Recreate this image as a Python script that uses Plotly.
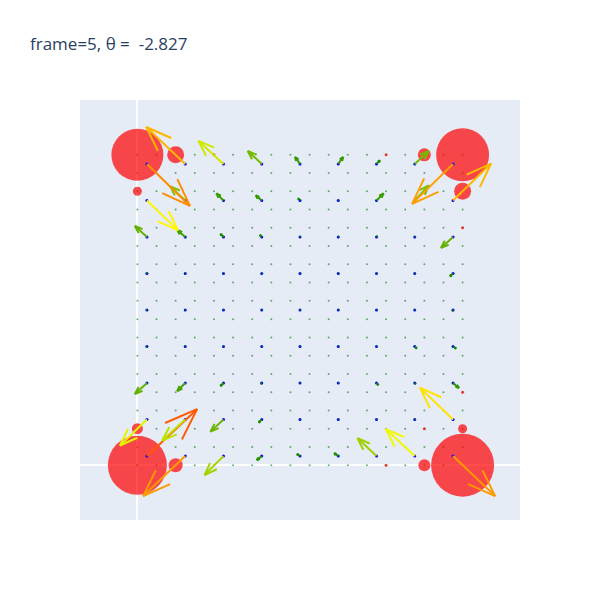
import plotly.graph_objects as go
import plotly.colors as pc
import math

# fine lattice coordinates
fine_x = [0, 1, 2, 3, 4, 5, 6, 7, 8, 9, 10, 11, 12, 13, 14, 15, 16, 17]
fine_y = [0, 1, 2, 3, 4, 5, 6, 7, 8, 9, 10, 11, 12, 13, 14, 15, 16, 17]

# coarse lattice (arrow bases)
coarse_x = [0.5, 2.5, 4.5, 6.5, 8.5, 10.5, 12.5, 14.5, 16.5]
coarse_y = [0.5, 2.5, 4.5, 6.5, 8.5, 10.5, 12.5, 14.5, 16.5]

# arrow components, rows from bottom (j=0) to top (j=8), columns left to right
U = [
    [2.62, -2.20, -0.99, -0.26, -0.16, -0.21, -0.99, -1.52, 2.20],
    [-1.41, -1.20, -0.68, -0.16, 0.02, 0.02, 0.02, 0.02, -1.73],
    [-0.63, -0.42, -0.16, -0.05, 0.02, 0.02, 0.10, 0.05, 0.31],
    [-0.05, 0.02, 0.02, 0.02, 0.02, 0.02, 0.02, 0.10, 0.16],
    [-0.05, 0.02, 0.02, 0.02, 0.02, 0.02, 0.02, 0.02, -0.05],
    [-0.05, 0.02, 0.02, 0.02, 0.02, 0.02, 0.02, 0.02, -0.16],
    [-0.63, -0.42, -0.16, -0.10, 0.02, 0.02, 0.05, 0.02, -0.63],
    [1.62, -0.78, -0.37, -0.31, -0.10, 0.02, 0.37, 0.73, 1.99],
    [2.25, -2.04, -1.31, -0.73, -0.26, 0.26, 0.18, 0.73, -2.14],
]
V = [
    [2.57, -2.19, -1.04, -0.22, 0.11, 0.16, 0.98, 1.48, -2.19],
    [-1.42, -1.15, -0.66, -0.16, 0.02, 0.02, 0.02, 0.02, 1.75],
    [-0.60, -0.44, -0.16, -0.05, 0.02, 0.02, -0.11, -0.05, -0.27],
    [-0.03, 0.02, 0.02, 0.02, 0.02, 0.02, 0.02, -0.11, -0.11],
    [0.00, 0.02, 0.02, 0.02, 0.02, 0.02, 0.02, 0.02, -0.05],
    [0.03, 0.02, 0.02, 0.02, 0.02, 0.02, 0.02, 0.02, -0.16],
    [0.60, 0.38, 0.16, 0.11, 0.02, 0.02, 0.05, 0.02, -0.60],
    [-1.64, 0.77, 0.38, 0.27, 0.11, 0.02, 0.38, 0.82, 2.02],
    [-2.30, 2.02, 1.26, 0.71, 0.38, 0.38, 0.19, 0.71, -2.19],
]

# probability blobs on the fine lattice
blob_x = [0, 2, 0, 17, 15, 17, 0, 0, 2, 17, 15, 17, 4, 13, 17, 17, 15, 13]
blob_y = [17, 17, 15, 17, 17, 15, 0, 2, 0, 0, 0, 2, 17, 17, 13, 4, 2, 0]
blob_d = [52, 17, 9, 53, 13, 17, 59, 11, 14, 63, 12, 9, 3, 3, 3, 3, 3, 3]

title_text = "frame=5, θ =  -2.827"

CMAX = 4.45
scale = [[0.0, "rgb(0,128,0)"], [0.5, "rgb(255,255,0)"], [1.0, "rgb(255,0,0)"]]

fig = go.Figure()

gx = [x for y in fine_y for x in fine_x]
gy = [y for y in fine_y for x in fine_x]
fig.add_trace(go.Scatter(x=gx, y=gy, mode="markers",
                         marker=dict(size=2, color="green", opacity=0.6),
                         showlegend=False, hoverinfo="skip"))

fig.add_trace(go.Scatter(x=blob_x, y=blob_y, mode="markers",
                         marker=dict(size=blob_d, color="red", opacity=0.7,
                                     line=dict(width=0)),
                         showlegend=False))

bx = [x for y in coarse_y for x in coarse_x]
by = [y for y in coarse_y for x in coarse_x]
fig.add_trace(go.Scatter(x=bx, y=by, mode="markers",
                         marker=dict(size=3, color="blue"),
                         showlegend=False, hoverinfo="skip"))

ang = math.pi / 9
for j, y0 in enumerate(coarse_y):
    for i, x0 in enumerate(coarse_x):
        u, v = U[j][i], V[j][i]
        mag = math.hypot(u, v)
        x1, y1 = x0 + u, y0 + v
        L = 0.5 * mag
        th = math.atan2(v, u)
        b1x = x1 - L * math.cos(th + ang)
        b1y = y1 - L * math.sin(th + ang)
        b2x = x1 - L * math.cos(th - ang)
        b2y = y1 - L * math.sin(th - ang)
        col = pc.sample_colorscale(scale, [min(mag / CMAX, 1.0)])[0]
        fig.add_trace(go.Scatter(x=[x0, x1, None, b1x, x1, b2x],
                                 y=[y0, y1, None, b1y, y1, b2y],
                                 mode="lines", line=dict(color=col, width=2),
                                 showlegend=False, hoverinfo="skip"))

fig.update_layout(
    width=600, height=600,
    title=dict(text=title_text),
    xaxis=dict(range=[-3, 20], showgrid=False, showticklabels=False, zeroline=True),
    yaxis=dict(range=[-3, 20], showgrid=False, showticklabels=False, zeroline=True),
    showlegend=False,
)

fig.write_html("out.html")
